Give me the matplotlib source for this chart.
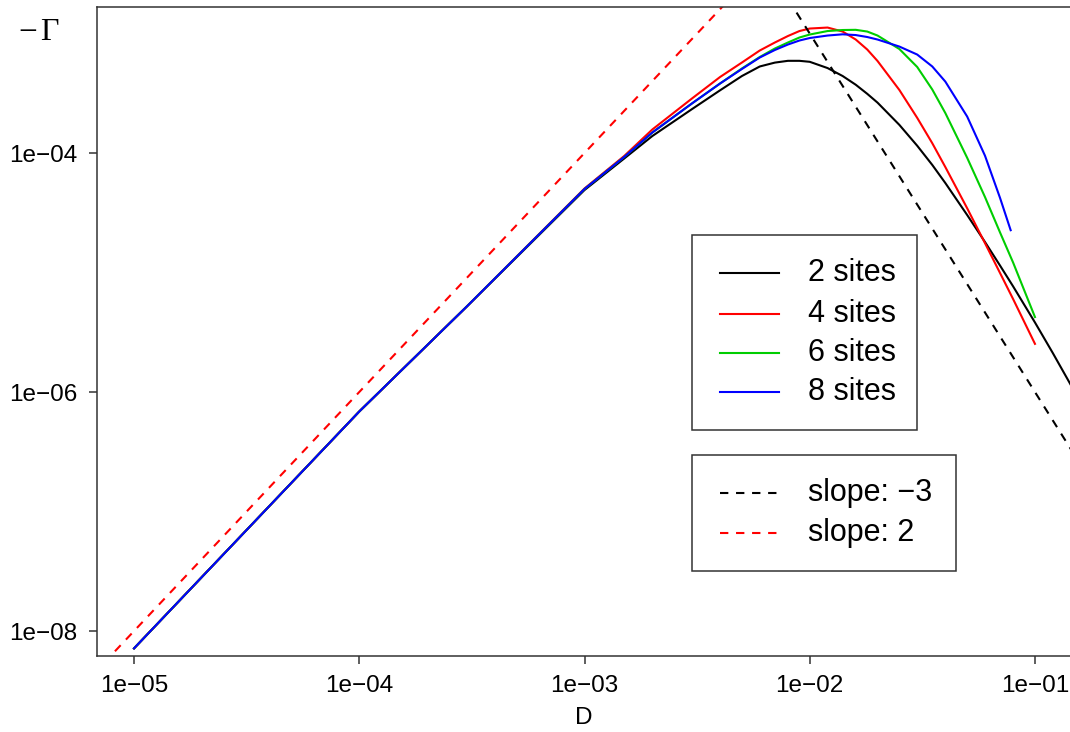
import matplotlib
matplotlib.use("Agg")
import matplotlib.pyplot as plt
from matplotlib.lines import Line2D
from matplotlib.patches import Rectangle

plt.rcParams['font.family'] = ['Liberation Sans', 'DejaVu Sans']

# -----------------------------
# Data
# -----------------------------
D_grid = [1e-5, 1e-4, 3e-4, 1e-3, 1.5e-3, 2e-3, 3e-3, 4e-3, 5e-3, 6e-3, 7e-3,
          8e-3, 9e-3, 1e-2, 1.2e-2, 1.4e-2, 1.6e-2, 1.8e-2, 2e-2, 2.5e-2,
          3e-2, 3.5e-2, 4e-2, 5e-2, 6e-2, 7e-2, 8e-2, 1e-1, 1.2e-1, 1.4e-1, 1.5e-1]

gamma_2 = [7.16e-9, 6.87e-7, 5.19e-6, 4.90e-5, 8.99e-5, 1.387e-4, 2.33e-4, 3.35e-4,
           4.41e-4, 5.30e-4, 5.71e-4, 5.91e-4, 5.91e-4, 5.80e-4, 5.14e-4, 4.41e-4,
           3.73e-4, 3.13e-4, 2.64e-4, 1.72e-4, 1.151e-4, 7.95e-5, 5.61e-5, 3.03e-5,
           1.80e-5, 1.142e-5, 7.65e-6, 3.82e-6, 2.12e-6, 1.267e-6, 1.004e-6]

gamma_4 = [7.16e-9, 6.87e-7, 5.19e-6, 5.05e-5, 9.44e-5, 1.573e-4, 2.86e-4, 4.33e-4,
           5.72e-4, 7.21e-4, 8.41e-4, 9.53e-4, 1.049e-3, 1.101e-3, 1.122e-3, 1.039e-3,
           8.91e-4, 7.35e-4, 5.89e-4, 3.37e-4, 1.97e-4, 1.208e-4, 7.63e-5, 3.45e-5,
           1.76e-5, 9.89e-6, 5.99e-6, 2.53e-6]

gamma_6 = [7.16e-9, 6.87e-7, 5.19e-6, 5.00e-5, 9.26e-5, 1.484e-4, 2.60e-4, 3.82e-4,
           5.10e-4, 6.36e-4, 7.49e-4, 8.41e-4, 9.26e-4, 9.81e-4, 1.049e-3, 1.070e-3,
           1.074e-3, 1.039e-3, 9.62e-4, 7.42e-4, 5.25e-4, 3.40e-4, 2.16e-4, 9.12e-5,
           4.28e-5, 2.16e-5, 1.21e-5, 4.24e-6]

D_8 = D_grid[:26] + [7.8e-2]
gamma_8 = [7.16e-9, 6.87e-7, 5.19e-6, 5.00e-5, 9.26e-5, 1.484e-4, 2.60e-4, 3.82e-4,
           5.05e-4, 6.30e-4, 7.28e-4, 8.09e-4, 8.74e-4, 9.17e-4, 9.62e-4, 9.85e-4,
           9.71e-4, 9.35e-4, 8.91e-4, 7.78e-4, 6.67e-4, 5.30e-4, 3.96e-4, 2.02e-4,
           9.49e-5, 4.20e-5, 2.26e-5]

series_labels = ["2 sites", "4 sites", "6 sites", "8 sites"]
series_colors = ["black", "#FF0000", "#00CD00", "#0000FF"]

# reference power laws: -Gamma = 100 D^2 and 1e-9 D^-3
slope2_D = [1e-6, 1e-2]
slope2_val = [1e-10, 1e-2]
slope3_D = [5e-3, 1.0]
slope3_val = [8e-3, 1e-9]
ref_labels = ["slope: \u22123", "slope: 2"]
ref_colors = ["black", "#FF0000"]

# -----------------------------
# Figure
# -----------------------------
W, H = 1070, 732
fig = plt.figure(figsize=(W / 100, H / 100), dpi=100)


def fx(px):
    return px / W


def fy(py):
    return 1 - py / H


ax = fig.add_axes([fx(97), fy(656), fx(1072) - fx(97), fy(7) - fy(656)])
ax.set_xscale('log')
ax.set_yscale('log')

lw = 1.5
dash = (4, 3.7)

xs = [D_grid[:len(gamma_2)], D_grid[:len(gamma_4)], D_grid[:len(gamma_6)], D_8]
ys = [gamma_2, gamma_4, gamma_6, gamma_8]
for x, y, c in zip(xs, ys, series_colors):
    ax.plot(x, y, color=c, lw=lw)

ax.plot(slope3_D, slope3_val, color=ref_colors[0], lw=lw, dashes=dash)
ax.plot(slope2_D, slope2_val, color=ref_colors[1], lw=lw, dashes=dash)

ax.set_xlim(10 ** -5.1644, 10 ** -0.8356)
ax.set_ylim(10 ** -8.209, 10 ** -2.778)

ax.set_xticks([1e-5, 1e-4, 1e-3, 1e-2, 1e-1])
ax.set_xticklabels(["1e\u221205", "1e\u221204", "1e\u221203", "1e\u221202", "1e\u221201"])
ax.set_yticks([1e-8, 1e-6, 1e-4])
ax.set_yticklabels(["1e\u221208", "1e\u221206", "1e\u221204"])
ax.minorticks_off()
ax.tick_params(axis='both', direction='out', length=6, width=1.1, labelsize=17.5,
               color='#333333')
ax.tick_params(axis='x', pad=8)
ax.tick_params(axis='y', pad=8)

for s in ax.spines.values():
    s.set_linewidth(1.1)
    s.set_color('#333333')

fig.text(fx(584), fy(718), "D", ha='center', va='center', fontsize=17.5)
serif = ['Liberation Serif', 'DejaVu Serif']
fig.text(fx(28), fy(33), "\u2212", ha='center', va='center', fontsize=24, family=serif)
fig.text(fx(49), fy(33), "\u0393", ha='center', va='center', fontsize=23, family=serif)

# -----------------------------
# Legends (drawn by hand, R style)
# -----------------------------
def legend_box(x0, y0, x1, y1, rows, labels, colors, dashed):
    fig.patches.append(Rectangle((fx(x0), fy(y1)), fx(x1) - fx(x0), fy(y0) - fy(y1),
                                 transform=fig.transFigure, fill=False,
                                 edgecolor='#333333', lw=1.1))
    for row, lab, c in zip(rows, labels, colors):
        kw = dict(dashes=dash) if dashed else {}
        fig.lines.append(Line2D([fx(720), fx(779)], [fy(row), fy(row)],
                                transform=fig.transFigure, color=c, lw=lw, **kw))
        fig.text(fx(808), fy(row), lab, ha='left', va='center', fontsize=22)


legend_box(692, 235, 917, 430, [273, 314, 353, 392], series_labels, series_colors, False)
legend_box(692, 455, 956, 571, [493, 533], ref_labels, ref_colors, True)

fig.savefig("out.png", dpi=100)
